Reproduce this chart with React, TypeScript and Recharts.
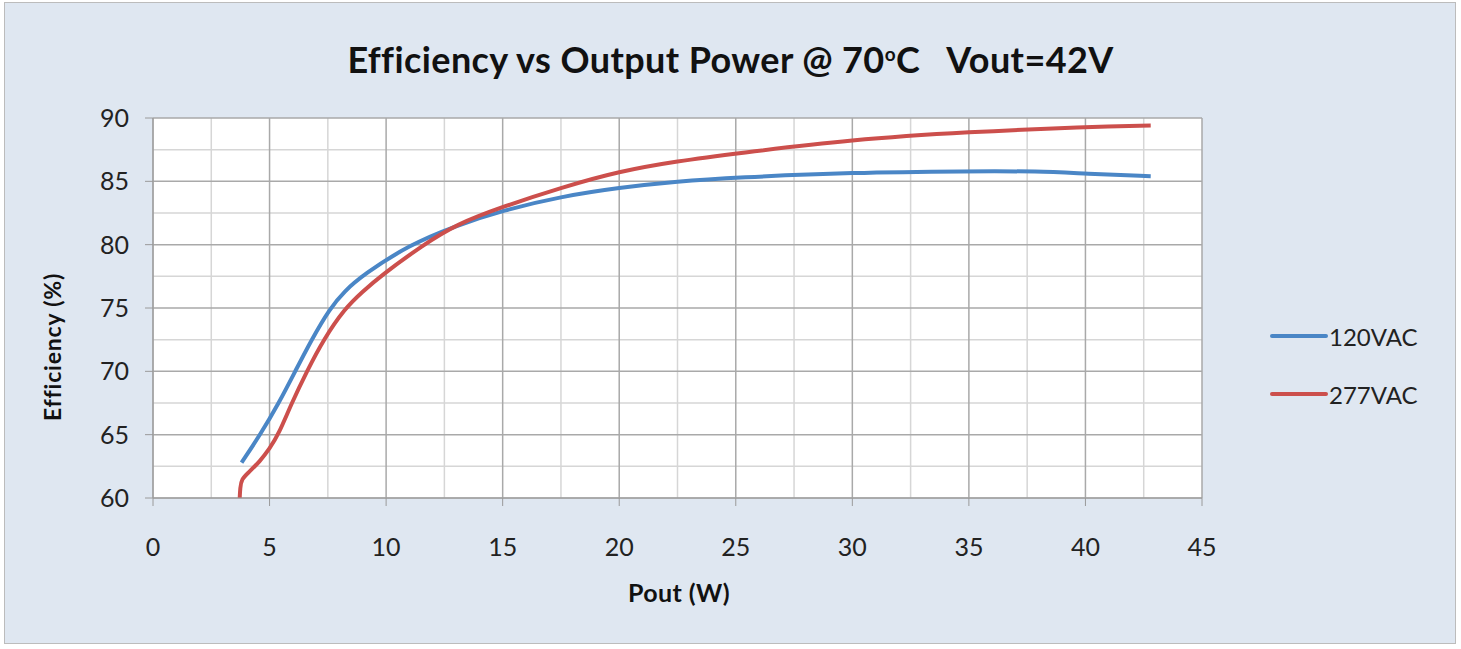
import React from "react";
import { LineChart, Line, XAxis, YAxis, CartesianGrid } from "recharts";

const pout120 = [3.8, 4.6, 5.4, 6.1, 6.8, 7.6, 8.2, 9.0, 11.0, 13.0, 15.0, 17.5, 20.0, 22.5, 25.0, 30.0, 35.0, 38.0, 40.0, 42.8];
const eff120 = [62.8, 65.0, 67.5, 70.0, 72.5, 75.0, 76.3, 77.6, 80.0, 81.5, 82.7, 83.8, 84.5, 85.0, 85.3, 85.7, 85.8, 85.8, 85.6, 85.4];

const pout277 = [3.72, 3.74, 3.8, 4.09, 4.59, 5.0, 5.38, 5.95, 6.6, 7.31, 8.24, 9.0, 9.74, 11.6, 13.0, 15.0, 17.5, 20.0, 22.5, 25.0, 30.0, 35.0, 40.0, 42.8];
const eff277 = [60.0, 60.8, 61.5, 62.0, 62.9, 63.9, 65.0, 67.5, 70.0, 72.5, 75.0, 76.3, 77.5, 80.0, 81.6, 83.0, 84.5, 85.8, 86.6, 87.2, 88.3, 88.9, 89.3, 89.4];

const xTicks = [0, 5, 10, 15, 20, 25, 30, 35, 40, 45];
const yTicks = [60, 65, 70, 75, 80, 85, 90];
const xMinor = [2.5, 7.5, 12.5, 17.5, 22.5, 27.5, 32.5, 37.5, 42.5];
const yMinor = [62.5, 67.5, 72.5, 77.5, 82.5, 87.5];

const series = [
  { name: "120VAC", color: "#4a86c6", xs: pout120, ys: eff120 },
  { name: "277VAC", color: "#cc4f4c", xs: pout277, ys: eff277 },
];

const FONT = "Lato, 'Open Sans', sans-serif";

function LegendBox() {
  return (
    <div style={{ position: "absolute", left: 1270, top: 321, fontFamily: FONT }}>
      {series.map((s, i) => (
        <div
          key={s.name}
          style={{ display: "flex", alignItems: "center", height: 30, marginBottom: i === 0 ? 28 : 0 }}
        >
          <div style={{ width: 58, height: 4, background: s.color, borderRadius: 2 }} />
          <span style={{ fontSize: 24, color: "#222", marginLeft: 1 }}>{s.name}</span>
        </div>
      ))}
    </div>
  );
}

export default function App() {
  return (
    <div style={{ position: "absolute", left: 0, top: 0, width: 1461, height: 649, background: "#fff" }}>
      <div
        style={{
          position: "absolute",
          left: 4,
          top: 2,
          width: 1450,
          height: 640,
          background: "#dfe7f1",
          border: "1px solid #bcbcbc",
        }}
      />
      <div
        style={{
          position: "absolute",
          left: 0,
          width: 1461,
          top: 56,
          transform: "translateY(-50%)",
          textAlign: "center",
          fontFamily: FONT,
          fontWeight: 700,
          fontSize: 36,
          letterSpacing: 0.4,
          color: "#111",
          lineHeight: "40px",
        }}
      >
        Efficiency vs Output Power @ 70<sup style={{ fontSize: 19, verticalAlign: "12px" }}>o</sup>C&nbsp;&nbsp;&nbsp;Vout=42V
      </div>
      <div
        style={{
          position: "absolute",
          left: 679,
          top: 592,
          transform: "translate(-50%, -50%)",
          fontFamily: FONT,
          fontWeight: 700,
          fontSize: 25,
          letterSpacing: 0.4,
          color: "#111",
          whiteSpace: "nowrap",
        }}
      >
        Pout (W)
      </div>
      <div
        style={{
          position: "absolute",
          left: 52,
          top: 347,
          transform: "translate(-50%, -50%) rotate(-90deg)",
          fontFamily: FONT,
          fontWeight: 700,
          fontSize: 23,
          letterSpacing: 0.8,
          color: "#111",
          whiteSpace: "nowrap",
        }}
      >
        Efficiency (%)
      </div>
      <div style={{ position: "absolute", left: 0, top: 0 }}>
        <LineChart
          width={1461}
          height={649}
          margin={{ top: 118, right: 259, left: 93, bottom: 111 }}
        >
          <CartesianGrid
            fill="#ffffff"
            stroke="#d6d6d6"
            strokeWidth={1.5}
            verticalValues={xMinor}
            horizontalValues={yMinor}
          />
          <CartesianGrid
            stroke="#a9a9a9"
            strokeWidth={1.5}
            verticalValues={xTicks}
            horizontalValues={yTicks}
          />
          <XAxis
            type="number"
            dataKey="x"
            domain={[0, 45]}
            ticks={xTicks}
            height={40}
            stroke="#9a9a9a"
            tickSize={8}
            tickMargin={32}
            tick={{ fontSize: 25, fill: "#222", fontFamily: FONT }}
            allowDataOverflow
          />
          <YAxis
            type="number"
            domain={[60, 90]}
            ticks={yTicks}
            width={60}
            stroke="#9a9a9a"
            tickSize={8}
            tickMargin={16}
            tick={{ fontSize: 25, fill: "#222", fontFamily: FONT }}
            allowDataOverflow
          />
          {series.map((s) => (
            <Line
              key={s.name}
              name={s.name}
              data={s.xs.map((x, i) => ({ x, y: s.ys[i] }))}
              dataKey="y"
              type="basis"
              stroke={s.color}
              strokeWidth={4}
              dot={false}
              isAnimationActive={false}
            />
          ))}
        </LineChart>
      </div>
      <LegendBox />
    </div>
  );
}
